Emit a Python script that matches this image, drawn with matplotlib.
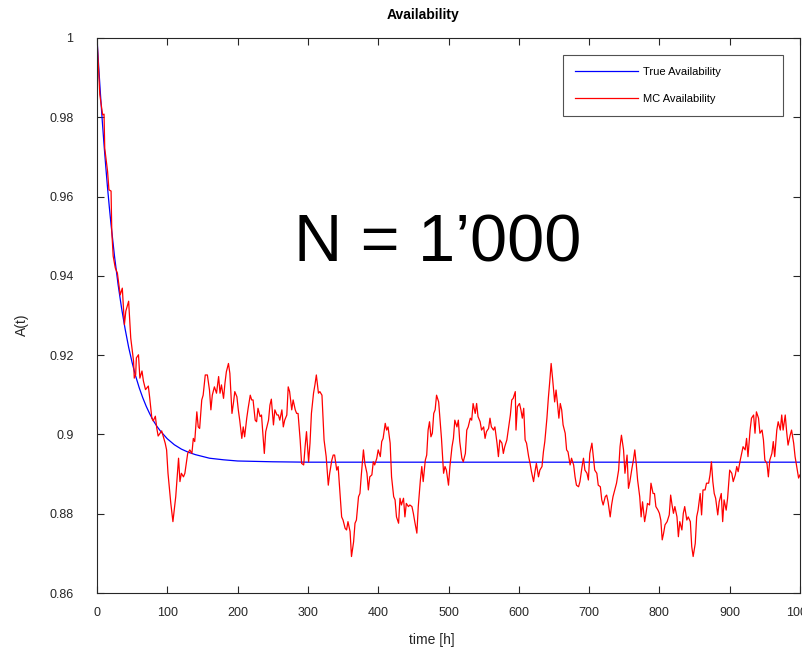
import matplotlib
matplotlib.use("Agg")
import matplotlib.pyplot as plt

plt.rcParams["font.family"] = ["Liberation Sans", "DejaVu Sans"]

# true (analytic) availability
true_time = [0, 2.5, 5, 7.5, 10, 12.5, 15, 17.5, 20, 25, 30, 35, 40, 45, 50, 55, 60, 65, 70,
             75, 80, 85, 90, 100, 110, 120, 130, 140, 160, 180, 200, 250, 300, 1000]
true_avail = [1.0, 0.9925, 0.9856, 0.9791, 0.9731, 0.9675, 0.9622, 0.9574, 0.9529, 0.9448,
              0.9378, 0.9318, 0.9266, 0.9220, 0.9181, 0.9147, 0.9118, 0.9093, 0.9071, 0.9052,
              0.9035, 0.9021, 0.9009, 0.8989, 0.8974, 0.8963, 0.8955, 0.8949, 0.8940, 0.8936,
              0.8933, 0.8931, 0.8930, 0.8930]

# Monte Carlo estimate (N = 1'000)
mc_time = [0, 4, 8, 10, 11, 15, 17, 20, 21, 23, 26, 29, 33, 36, 39, 41, 45, 48, 52, 53, 55, 56, 59,
           61, 64, 66, 69, 73, 75, 78, 80, 83, 85, 87, 92, 97, 99, 101, 105, 108, 112, 116, 118, 120,
           123, 125, 129, 132, 135, 137, 139, 142, 144, 146, 149, 151, 154, 157, 160, 162, 164, 167,
           170, 173, 175, 177, 180, 182, 184, 187, 189, 192, 194, 196, 199, 201, 203, 206, 208, 210,
           213, 215, 218, 220, 222, 225, 227, 229, 232, 234, 238, 240, 244, 246, 248, 251, 253, 256,
           258, 260, 263, 265, 267, 270, 272, 274, 277, 279, 282, 284, 286, 289, 291, 294, 296, 298,
           301, 303, 305, 308, 310, 312, 315, 317, 320, 323, 326, 329, 331, 334, 336, 338, 341, 343,
           346, 348, 350, 353, 355, 357, 360, 362, 365, 367, 369, 372, 374, 376, 379, 381, 384, 386,
           388, 391, 393, 395, 398, 400, 403, 405, 407, 410, 412, 414, 417, 419, 422, 424, 426, 429,
           431, 433, 436, 438, 440, 443, 445, 448, 450, 452, 455, 457, 460, 462, 464, 467, 469, 471,
           473, 475, 477, 479, 481, 483, 486, 488, 490, 493, 495, 497, 500, 502, 505, 507, 509, 512,
           514, 516, 519, 521, 524, 526, 528, 531, 533, 535, 538, 540, 542, 545, 547, 550, 552, 554,
           557, 559, 561, 564, 566, 569, 571, 573, 576, 578, 580, 583, 585, 588, 590, 592, 595, 596,
           598, 601, 603, 605, 607, 609, 611, 614, 616, 618, 621, 623, 625, 628, 630, 633, 635, 637,
           640, 642, 644, 646, 648, 651, 653, 655, 657, 659, 661, 663, 666, 668, 670, 673, 675, 678,
           680, 682, 685, 687, 690, 692, 694, 697, 699, 701, 704, 706, 708, 711, 713, 716, 718, 720,
           723, 725, 727, 730, 732, 734, 737, 739, 742, 744, 746, 749, 751, 754, 756, 758, 761, 763,
           765, 767, 769, 772, 774, 776, 779, 781, 783, 786, 788, 791, 793, 795, 798, 800, 802, 804,
           806, 808, 811, 814, 816, 818, 820, 822, 825, 827, 829, 832, 834, 836, 839, 841, 844, 846,
           848, 851, 853, 855, 858, 860, 862, 865, 867, 870, 872, 874, 876, 878, 880, 883, 885, 888,
           890, 892, 895, 897, 900, 903, 905, 908, 910, 912, 915, 917, 919, 922, 924, 926, 929, 931,
           934, 936, 938, 941, 943, 946, 948, 950, 953, 955, 957, 960, 962, 964, 967, 969, 972, 974,
           976, 979, 981, 983, 986, 988, 991, 993, 995, 998, 1000]
mc_avail = [1.0, 0.9857, 0.9806, 0.9808, 0.9722, 0.9664, 0.9617, 0.9614, 0.9513, 0.9450, 0.9420,
            0.9407, 0.9352, 0.9369, 0.9277, 0.9311, 0.9336, 0.9243, 0.9185, 0.9142, 0.9151, 0.9193,
            0.9201, 0.9142, 0.9160, 0.9135, 0.9113, 0.9122, 0.9092, 0.9041, 0.9034, 0.9046, 0.9016,
            0.8996, 0.9009, 0.8978, 0.8961, 0.8902, 0.8826, 0.8780, 0.8843, 0.8940, 0.8881, 0.8902,
            0.8893, 0.8902, 0.8952, 0.8961, 0.8952, 0.8990, 0.8982, 0.9057, 0.9019, 0.9015, 0.9087,
            0.9099, 0.9150, 0.9150, 0.9112, 0.9062, 0.9099, 0.9120, 0.9104, 0.9146, 0.9104, 0.9125,
            0.9091, 0.9129, 0.9158, 0.9179, 0.9154, 0.9053, 0.9078, 0.9108, 0.9095, 0.9062, 0.9036,
            0.8990, 0.9019, 0.8994, 0.9041, 0.9066, 0.9099, 0.9087, 0.9087, 0.9036, 0.9032, 0.9066,
            0.9045, 0.9049, 0.8952, 0.9007, 0.9036, 0.9074, 0.9089, 0.9024, 0.9062, 0.9049, 0.9049,
            0.9036, 0.9062, 0.9019, 0.9036, 0.9049, 0.9120, 0.9108, 0.9062, 0.9087, 0.9062, 0.9053,
            0.9053, 0.8986, 0.8927, 0.8923, 0.8969, 0.9007, 0.8931, 0.8978, 0.9053, 0.9104, 0.9125,
            0.9150, 0.9104, 0.9108, 0.9099, 0.8986, 0.8944, 0.8872, 0.8902, 0.8935, 0.8948, 0.8948,
            0.8910, 0.8919, 0.8843, 0.8792, 0.8784, 0.8763, 0.8759, 0.8780, 0.8755, 0.8692, 0.8729,
            0.8776, 0.8784, 0.8843, 0.8851, 0.8898, 0.8961, 0.8927, 0.8902, 0.8860, 0.8893, 0.8898,
            0.8931, 0.8923, 0.8940, 0.8961, 0.8944, 0.8982, 0.8990, 0.9028, 0.9011, 0.9019, 0.8978,
            0.8893, 0.8843, 0.8835, 0.8792, 0.8776, 0.8839, 0.8822, 0.8839, 0.8792, 0.8826, 0.8818,
            0.8822, 0.8818, 0.8801, 0.8780, 0.8751, 0.8818, 0.8885, 0.8919, 0.8881, 0.8935, 0.8948,
            0.9011, 0.9032, 0.8994, 0.9003, 0.9053, 0.9062, 0.9099, 0.9082, 0.9036, 0.8990, 0.8902,
            0.8919, 0.8910, 0.8872, 0.8919, 0.8969, 0.8990, 0.9036, 0.9019, 0.9036, 0.8982, 0.8940,
            0.8931, 0.8952, 0.9011, 0.9019, 0.9041, 0.9036, 0.9078, 0.9053, 0.9078, 0.9045, 0.9032,
            0.9011, 0.9019, 0.8990, 0.9007, 0.9015, 0.9041, 0.9019, 0.9011, 0.9019, 0.8978, 0.8944,
            0.8986, 0.8978, 0.8952, 0.8969, 0.8986, 0.9011, 0.9049, 0.9087, 0.9091, 0.9108, 0.9011,
            0.9070, 0.9078, 0.9062, 0.9041, 0.9066, 0.8986, 0.8978, 0.8944, 0.8927, 0.8906, 0.8881,
            0.8906, 0.8927, 0.8893, 0.8910, 0.8919, 0.8956, 0.8982, 0.9041, 0.9091, 0.9133, 0.9179,
            0.9142, 0.9082, 0.9112, 0.9078, 0.9041, 0.9078, 0.9062, 0.9024, 0.9003, 0.8961, 0.8956,
            0.8923, 0.8940, 0.8923, 0.8893, 0.8872, 0.8868, 0.8881, 0.8919, 0.8940, 0.8910, 0.8902,
            0.8885, 0.8952, 0.8978, 0.8944, 0.8910, 0.8902, 0.8872, 0.8868, 0.8835, 0.8822, 0.8843,
            0.8847, 0.8830, 0.8792, 0.8822, 0.8843, 0.8864, 0.8877, 0.8910, 0.8969, 0.8998, 0.8961,
            0.8902, 0.8948, 0.8864, 0.8881, 0.8915, 0.8935, 0.8961, 0.8927, 0.8885, 0.8843, 0.8792,
            0.8830, 0.8780, 0.8801, 0.8826, 0.8822, 0.8877, 0.8851, 0.8851, 0.8818, 0.8809, 0.8801,
            0.8784, 0.8734, 0.8751, 0.8772, 0.8780, 0.8797, 0.8847, 0.8822, 0.8801, 0.8818, 0.8792,
            0.8742, 0.8780, 0.8759, 0.8801, 0.8818, 0.8784, 0.8792, 0.8780, 0.8717, 0.8692, 0.8725,
            0.8792, 0.8809, 0.8851, 0.8797, 0.8860, 0.8860, 0.8877, 0.8877, 0.8898, 0.8931, 0.8881,
            0.8851, 0.8839, 0.8797, 0.8830, 0.8851, 0.8780, 0.8835, 0.8809, 0.8839, 0.8910, 0.8902,
            0.8881, 0.8898, 0.8919, 0.8906, 0.8935, 0.8952, 0.8969, 0.8961, 0.8990, 0.8944, 0.9011,
            0.9041, 0.9049, 0.9003, 0.9057, 0.9041, 0.9003, 0.9011, 0.8986, 0.8935, 0.8927, 0.8893,
            0.8935, 0.8952, 0.8982, 0.8944, 0.9011, 0.9032, 0.9011, 0.9049, 0.9011, 0.9049, 0.9007,
            0.8973, 0.8998, 0.9011, 0.8978, 0.8944, 0.8923, 0.8890, 0.8898]

x_ticks = list(range(0, 1001, 100))
y_ticks = [0.86, 0.88, 0.9, 0.92, 0.94, 0.96, 0.98, 1.0]
y_tick_labels = ["0.86", "0.88", "0.9", "0.92", "0.94", "0.96", "0.98", "1"]

AX_COL = "#262626"

fig = plt.figure(figsize=(8.02, 6.5), dpi=100)
ax = fig.add_axes([97 / 802, 1 - 593 / 650, 703 / 802, 555 / 650])

ax.plot(true_time, true_avail, color="#0000ff", lw=0.9, label="True Availability")
ax.plot(mc_time, mc_avail, color="#ff0000", lw=0.9, label="MC Availability")

ax.set_xlim(0, 1000); ax.set_ylim(0.86, 1.0)
ax.set_xticks(x_ticks); ax.set_yticks(y_ticks, y_tick_labels)
ax.tick_params(direction="in", length=5, width=0.8, top=True, right=True, colors=AX_COL,
               labelsize=9)
ax.tick_params(axis="x", pad=10)
ax.tick_params(axis="y", pad=17)
for sp in ax.spines.values():
    sp.set_color(AX_COL); sp.set_linewidth(0.8)

ax.text(484, 0.9435, "N = 1\u2019000", fontsize=48, ha="center", va="baseline", color="black")

# legend box spans x 563..783 px, top at y 55 px
leg = ax.legend(loc="upper left", mode="expand",
                bbox_to_anchor=((563 - 97) / 703, (593 - 114) / 555, 220 / 703, 59 / 555),
                fontsize=8, frameon=True, fancybox=False, handlelength=5.7, handletextpad=0.45,
                labelspacing=1.55, borderpad=1.05, borderaxespad=0)
leg.get_frame().set_edgecolor(AX_COL); leg.get_frame().set_linewidth(0.8)

fig.text(423 / 802, 1 - 15 / 650, "Availability", fontsize=10, fontweight="bold",
         ha="center", va="center", color="black")
fig.text(432 / 802, 1 - 640 / 650, "time [h]", fontsize=10, ha="center", va="center", color=AX_COL)
fig.text(22 / 802, 1 - 325 / 650, "A(t)", fontsize=10, rotation=90, ha="center", va="center",
         color=AX_COL)

fig.savefig("out.png", dpi=100)
